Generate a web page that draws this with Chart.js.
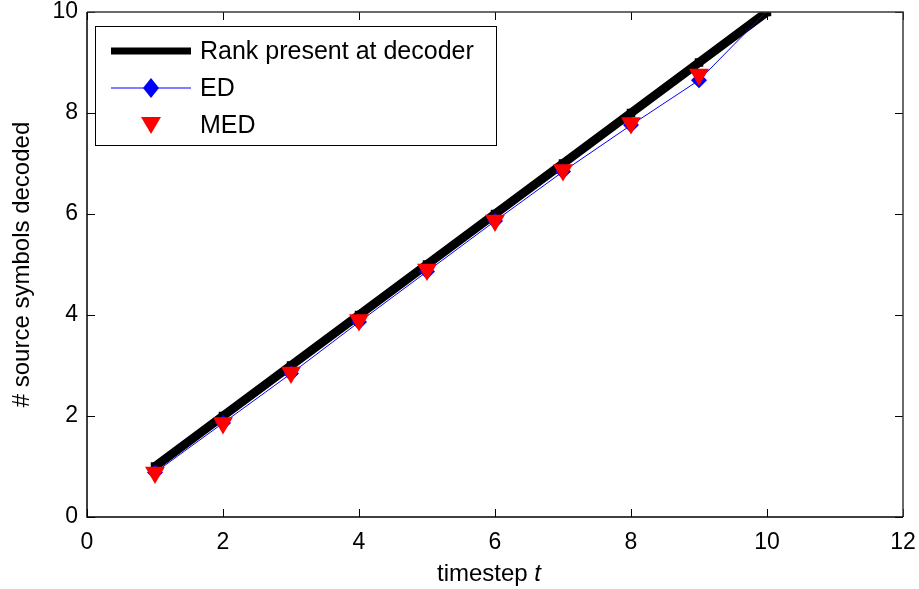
<!DOCTYPE html>
<html>
<head>
<meta charset="utf-8">
<script src="https://cdn.jsdelivr.net/npm/chart.js@4"></script>
<style>
  html, body { margin: 0; padding: 0; background: #fff; }
  #wrap { width: 919px; height: 589px; }
</style>
</head>
<body>
<div id="wrap"><canvas id="chart" width="919" height="589"></canvas></div>
<script>
// data
const timesteps = [1, 2, 3, 4, 5, 6, 7, 8, 9, 10];
const rankValues = [1, 2, 3, 4, 5, 6, 7, 8, 9, 10];
const edValues = [0.88, 1.86, 2.84, 3.86, 4.86, 5.86, 6.84, 7.76, 8.65, 10.02];
const medValues = [0.88, 1.86, 2.86, 3.9, 4.9, 5.87, 6.87, 7.8, 8.76, 10.02];
const xTicks = [0, 2, 4, 6, 8, 10, 12];
const yTicks = [0, 2, 4, 6, 8, 10];

const FONT = '"Liberation Sans", Arial, Helvetica, sans-serif';

const toPoints = (ys) => timesteps.map((t, i) => ({ x: t, y: ys[i] }));

// markers whose point is above the axis limit are not drawn (like MATLAB)
const hideAbove = (r) => (ctx) => (ctx.raw && ctx.raw.y > 10 ? 0 : r);

// box, inward ticks, axis titles and legend
const matlabAxes = {
  id: 'matlabAxes',
  afterDatasetsDraw(chart) {
    const { ctx, chartArea: a, scales } = chart;
    const tl = 8;
    ctx.save();
    ctx.lineWidth = 1;
    ctx.strokeStyle = '#000';
    xTicks.forEach((v) => {
      const px = Math.round(scales.x.getPixelForValue(v)) + 0.5;
      ctx.beginPath();
      ctx.moveTo(px, a.bottom); ctx.lineTo(px, a.bottom - tl);
      ctx.moveTo(px, a.top); ctx.lineTo(px, a.top + tl);
      ctx.stroke();
    });
    yTicks.forEach((v) => {
      const py = Math.round(scales.y.getPixelForValue(v)) + 0.5;
      ctx.beginPath();
      ctx.moveTo(a.left, py); ctx.lineTo(a.left + tl, py);
      ctx.moveTo(a.right, py); ctx.lineTo(a.right - tl, py);
      ctx.stroke();
    });
    // frame
    ctx.lineWidth = 1.5;
    ctx.strokeStyle = '#3a3a3a';
    ctx.beginPath();
    ctx.moveTo(a.left, a.top); ctx.lineTo(a.right, a.top); ctx.lineTo(a.right, a.bottom);
    ctx.stroke();
    ctx.strokeStyle = '#000';
    ctx.beginPath();
    ctx.moveTo(a.left, a.top); ctx.lineTo(a.left, a.bottom); ctx.lineTo(a.right, a.bottom);
    ctx.stroke();

    // axis titles
    ctx.fillStyle = '#000';
    ctx.textBaseline = 'middle';
    const xMid = (a.left + a.right) / 2 - 6;
    ctx.font = '24px ' + FONT;
    const w1 = ctx.measureText('timestep ').width;
    ctx.font = 'italic 24px ' + FONT;
    const w2 = ctx.measureText('t').width;
    let sx = xMid - (w1 + w2) / 2;
    ctx.textAlign = 'left';
    ctx.font = '24px ' + FONT;
    ctx.fillText('timestep ', sx, 574);
    ctx.font = 'italic 24px ' + FONT;
    ctx.fillText('t', sx + w1, 574);

    ctx.save();
    ctx.translate(22, (a.top + a.bottom) / 2);
    ctx.rotate(-Math.PI / 2);
    ctx.textAlign = 'center';
    ctx.font = '24px ' + FONT;
    ctx.fillText('# source symbols decoded', 0, 0);
    ctx.restore();

    // legend
    const lx = 95.5, ly = 26.5, lw = 401, lh = 119;
    ctx.fillStyle = '#fff';
    ctx.fillRect(lx, ly, lw, lh);
    ctx.lineWidth = 1;
    ctx.strokeStyle = '#000';
    ctx.strokeRect(lx, ly, lw, lh);
    const rows = [51, 88, 125];
    const ds = chart.data.datasets;
    ctx.font = '25px ' + FONT;
    ctx.textAlign = 'left';
    ds.forEach((d, i) => {
      const y = rows[i];
      if (d.showLine !== false) {
        ctx.strokeStyle = d.borderColor;
        ctx.lineWidth = i === 0 ? 7 : 1;
        ctx.beginPath();
        ctx.moveTo(111, y); ctx.lineTo(191, y);
        ctx.stroke();
      }
      if (d.legendMarker) {
        ctx.fillStyle = d.pointBackgroundColor;
        ctx.beginPath();
        if (d.legendMarker === 'diamond') {
          ctx.moveTo(151, y - 10); ctx.lineTo(159, y); ctx.lineTo(151, y + 10); ctx.lineTo(143, y);
        } else {
          ctx.moveTo(141, y - 8); ctx.lineTo(161, y - 8); ctx.lineTo(151, y + 9);
        }
        ctx.closePath();
        ctx.fill();
      }
      ctx.fillStyle = '#000';
      ctx.fillText(d.label, 200, y + 1);
    });
    ctx.restore();
  }
};

new Chart(document.getElementById('chart'), {
  type: 'scatter',
  data: {
    datasets: [
      {
        label: 'Rank present at decoder',
        data: toPoints(rankValues),
        showLine: true,
        borderColor: '#000',
        borderWidth: 9,
        pointStyle: 'rect',
        pointRadius: 6,
        pointBackgroundColor: '#000',
        pointBorderWidth: 0,
        clip: 0,
        order: 2
      },
      {
        label: 'ED',
        data: toPoints(edValues),
        showLine: true,
        borderColor: '#0000ff',
        borderWidth: 1,
        pointStyle: 'rectRot',
        pointRadius: hideAbove(8),
        pointBackgroundColor: '#0000ff',
        pointBorderColor: '#0000ff',
        pointBorderWidth: 0,
        legendMarker: 'diamond',
        clip: 0,
        order: 1
      },
      {
        label: 'MED',
        data: toPoints(medValues),
        showLine: false,
        borderColor: '#ff0000',
        pointStyle: 'triangle',
        rotation: 180,
        pointRadius: hideAbove(11.5),
        pointBackgroundColor: '#ff0000',
        pointBorderColor: '#ff0000',
        pointBorderWidth: 0,
        legendMarker: 'triangle',
        clip: 0,
        order: 0
      }
    ]
  },
  options: {
    responsive: false,
    animation: false,
    layout: { padding: { top: 12, right: 16, left: 0, bottom: 0 } },
    plugins: { legend: { display: false }, tooltip: { enabled: false } },
    scales: {
      x: {
        type: 'linear',
        min: 0,
        max: 12,
        afterBuildTicks: (s) => { s.ticks = xTicks.map((v) => ({ value: v })); },
        afterFit: (s) => { s.height = 72; s.paddingLeft = 0; s.paddingRight = 0; },
        grid: { display: false, drawTicks: false },
        border: { display: false },
        ticks: { color: '#000', padding: 12, font: { family: FONT, size: 23 } }
      },
      y: {
        type: 'linear',
        min: 0,
        max: 10,
        afterBuildTicks: (s) => { s.ticks = yTicks.map((v) => ({ value: v })); },
        afterFit: (s) => { s.width = 87; s.paddingTop = 0; s.paddingBottom = 0; },
        grid: { display: false, drawTicks: false },
        border: { display: false },
        ticks: { color: '#000', padding: 9, font: { family: FONT, size: 23 } }
      }
    }
  },
  plugins: [matlabAxes]
});
</script>
</body>
</html>
